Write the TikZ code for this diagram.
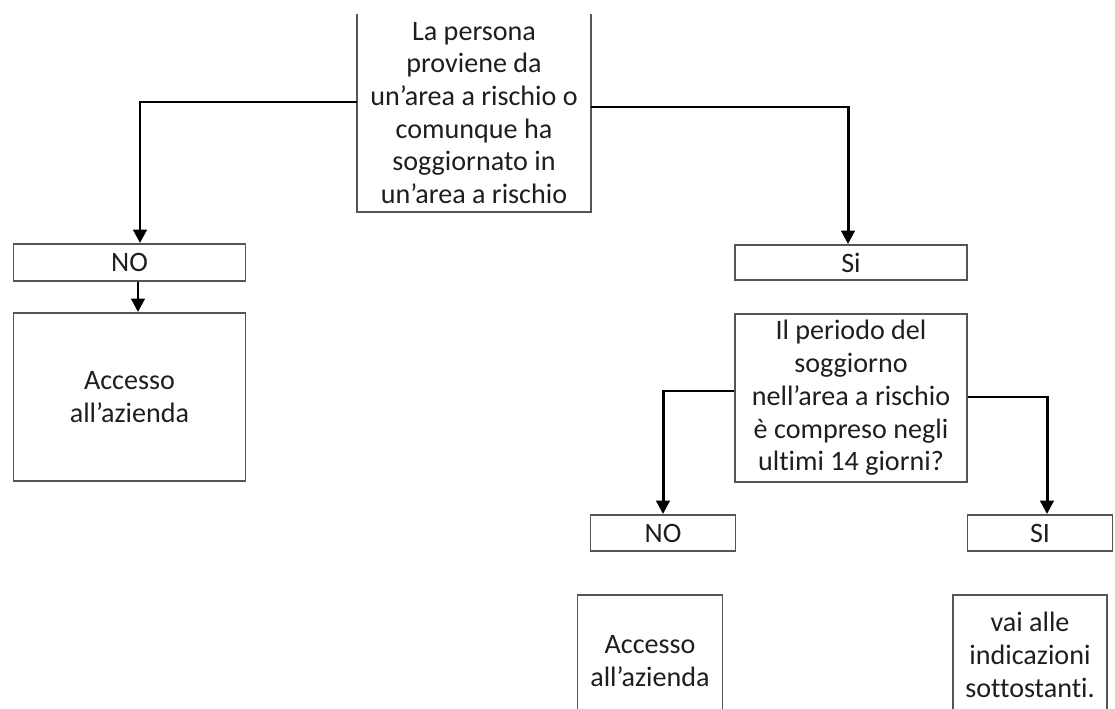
\documentclass[tikz,border=0pt]{standalone}
\usepackage{fontspec}
\setmainfont{Carlito}[Ligatures=NoCommon]
\usetikzlibrary{arrows.meta}
\definecolor{boxgray}{HTML}{555555}
\definecolor{txtgray}{HTML}{1E1E1E}

\begin{document}
\begin{tikzpicture}[x=0.02cm,y=-0.02cm]
\edef\widebox{4.64cm}
\edef\smallbox{2.9cm}
\tikzstyle{qbox}=[draw=boxgray,line width=1.1pt,text=txtgray,align=center,inner sep=0pt,
  font=\fontsize{16}{18.6}\selectfont]
\tikzstyle{flow}=[line width=1.7pt,-{Triangle[length=0.27cm,width=0.27cm]}]
%% page frame
\clip (0,0) rectangle (1115,709);
%% first question, its top runs out of the page
\node [qbox,draw=none,minimum width=\widebox,minimum height=3.92cm] (quest1) at (474,113)
  {La persona\\proviene da\\un’area a rischio o\\comunque ha\\soggiornato in\\un’area a rischio};
\draw [draw=boxgray,line width=1.1pt] (quest1.north west) -- (quest1.south west)
  -- (quest1.south east) -- (quest1.north east);
%% left branch
\node [qbox,minimum width=\widebox,minimum height=0.74cm] (no1) at (129.5,262.5) {NO};
\node [qbox,minimum width=\widebox,minimum height=3.36cm] (acc1) at (129.5,397) {Accesso\\all’azienda};
%% right branch
\node [qbox,minimum width=\widebox,minimum height=0.7cm] (si1) at (851,262.5) {Si};
\node [qbox,minimum width=\widebox,minimum height=3.36cm] (quest2) at (851,398)
  {Il periodo del\\soggiorno\\nell’area a rischio\\è compreso negli\\ultimi 14 giorni?};
\node [qbox,minimum width=\smallbox,minimum height=0.72cm] (no2) at (663,533) {NO};
\node [qbox,minimum width=\smallbox,minimum height=0.72cm] (si2) at (1040,533) {SI};
\node [qbox,minimum width=\smallbox,minimum height=2.64cm] (acc2) at (650,661) {Accesso\\all’azienda};
\node [qbox,minimum width=3.08cm,minimum height=2.4cm] (vai) at (1030,655) {vai alle\\indicazioni\\sottostanti.};
%% arrows
\draw [flow] ([yshift=0.22cm]quest1.west) -| ([xshift=0.21cm]no1.north);
\draw [flow] ([xshift=0.17cm]no1.south) -- ([xshift=0.17cm]acc1.north);
\draw [flow] ([yshift=0.12cm]quest1.east) -| ([xshift=-0.06cm]si1.north);
\draw [flow] ([yshift=0.14cm]quest2.west) -| (no2.north);
\draw [flow] ([yshift=0.02cm]quest2.east) -| ([xshift=0.14cm]si2.north);
\end{tikzpicture}
\end{document}
